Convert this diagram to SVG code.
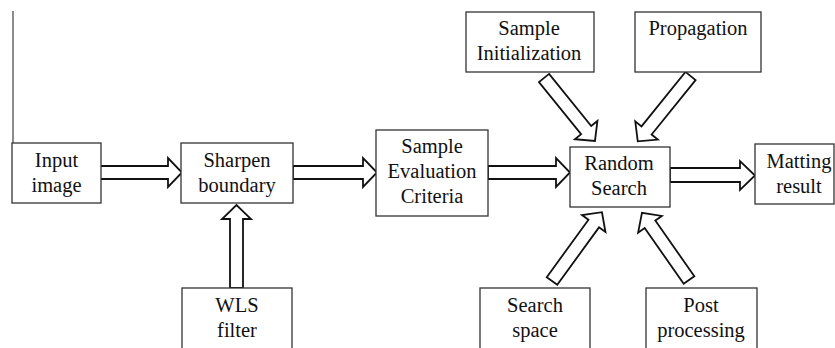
<svg xmlns="http://www.w3.org/2000/svg" width="835" height="348" viewBox="0 0 835 348">
<style>
.box{fill:#fff;stroke:#333;stroke-width:1.3}
.lbl{font-family:"Liberation Serif","Times New Roman",serif;font-size:20.5px;fill:#111;text-anchor:middle}
.arw{fill:#fff;stroke:#111;stroke-width:1.8;stroke-linejoin:miter}
</style>
<rect width="835" height="348" fill="#fff"/>
<line x1="13" y1="11" x2="13" y2="180" stroke="#666" stroke-width="1.5"/>
<g id="connectors">
<polygon class="arw" points="100,166 168,166 168,158 182,172.5 168,187 168,179 100,179"/>
<polygon class="arw" points="293,166 363,166 363,158 377,172.5 363,187 363,179 293,179"/>
<polygon class="arw" points="488,166 556,166 556,158 570,172.5 556,187 556,179 488,179"/>
<polygon class="arw" points="670,168 740,168 740,161 755,175.5 740,190 740,182 670,182"/>
<polygon class="arw" points="230,288 230,219 222,219 236.5,205 251,219 243,219 243,288"/>
<polygon class="arw" transform="translate(544,78) rotate(51)" points="0,-6.5 67,-6.5 67,-14.5 81,0 67,14.5 67,6.5 0,6.5"/>
<polygon class="arw" transform="translate(690.5,76) rotate(128.9)" points="0,-6.5 70,-6.5 70,-14.5 84,0 70,14.5 70,6.5 0,6.5"/>
<polygon class="arw" transform="translate(552,281) rotate(-54)" points="0,-6.5 71,-6.5 71,-14.5 85,0 71,14.5 71,6.5 0,6.5"/>
<polygon class="arw" transform="translate(689,280) rotate(-125)" points="0,-6.5 68,-6.5 68,-14.5 82,0 68,14.5 68,6.5 0,6.5"/>
</g>
<g id="input-image">
<rect class="box" x="12" y="143" width="89" height="60"/>
<text class="lbl"><tspan x="56.5" y="167">Input</tspan><tspan x="56.5" y="192">image</tspan></text>
</g>
<g id="sharpen-boundary">
<rect class="box" x="181" y="143" width="112" height="60"/>
<text class="lbl"><tspan x="237" y="167">Sharpen</tspan><tspan x="237" y="192">boundary</tspan></text>
</g>
<g id="wls-filter">
<rect class="box" x="182" y="288" width="110" height="70"/>
<text class="lbl"><tspan x="237" y="312">WLS</tspan><tspan x="237" y="337">filter</tspan></text>
</g>
<g id="sample-evaluation-criteria">
<rect class="box" x="376" y="130" width="112" height="86"/>
<text class="lbl"><tspan x="432" y="153">Sample</tspan><tspan x="432" y="178">Evaluation</tspan><tspan x="432" y="203">Criteria</tspan></text>
</g>
<g id="sample-initialization">
<rect class="box" x="466" y="12" width="128" height="60"/>
<text class="lbl"><tspan x="529" y="35">Sample</tspan><tspan x="529" y="60">Initialization</tspan></text>
</g>
<g id="propagation">
<rect class="box" x="635" y="12" width="126" height="60"/>
<text class="lbl"><tspan x="698" y="35">Propagation</tspan></text>
</g>
<g id="random-search">
<rect class="box" x="570" y="147" width="100" height="60"/>
<text class="lbl"><tspan x="619" y="170">Random</tspan><tspan x="619" y="195">Search</tspan></text>
</g>
<g id="matting-result">
<rect class="box" x="755" y="144" width="79" height="60"/>
<text class="lbl"><tspan x="799" y="168">Matting</tspan><tspan x="799" y="193">result</tspan></text>
</g>
<g id="search-space">
<rect class="box" x="480" y="288" width="110" height="70"/>
<text class="lbl"><tspan x="535" y="312">Search</tspan><tspan x="535" y="337">space</tspan></text>
</g>
<g id="post-processing">
<rect class="box" x="646" y="288" width="111" height="70"/>
<text class="lbl"><tspan x="701" y="312">Post</tspan><tspan x="701" y="337">processing</tspan></text>
</g>
</svg>
